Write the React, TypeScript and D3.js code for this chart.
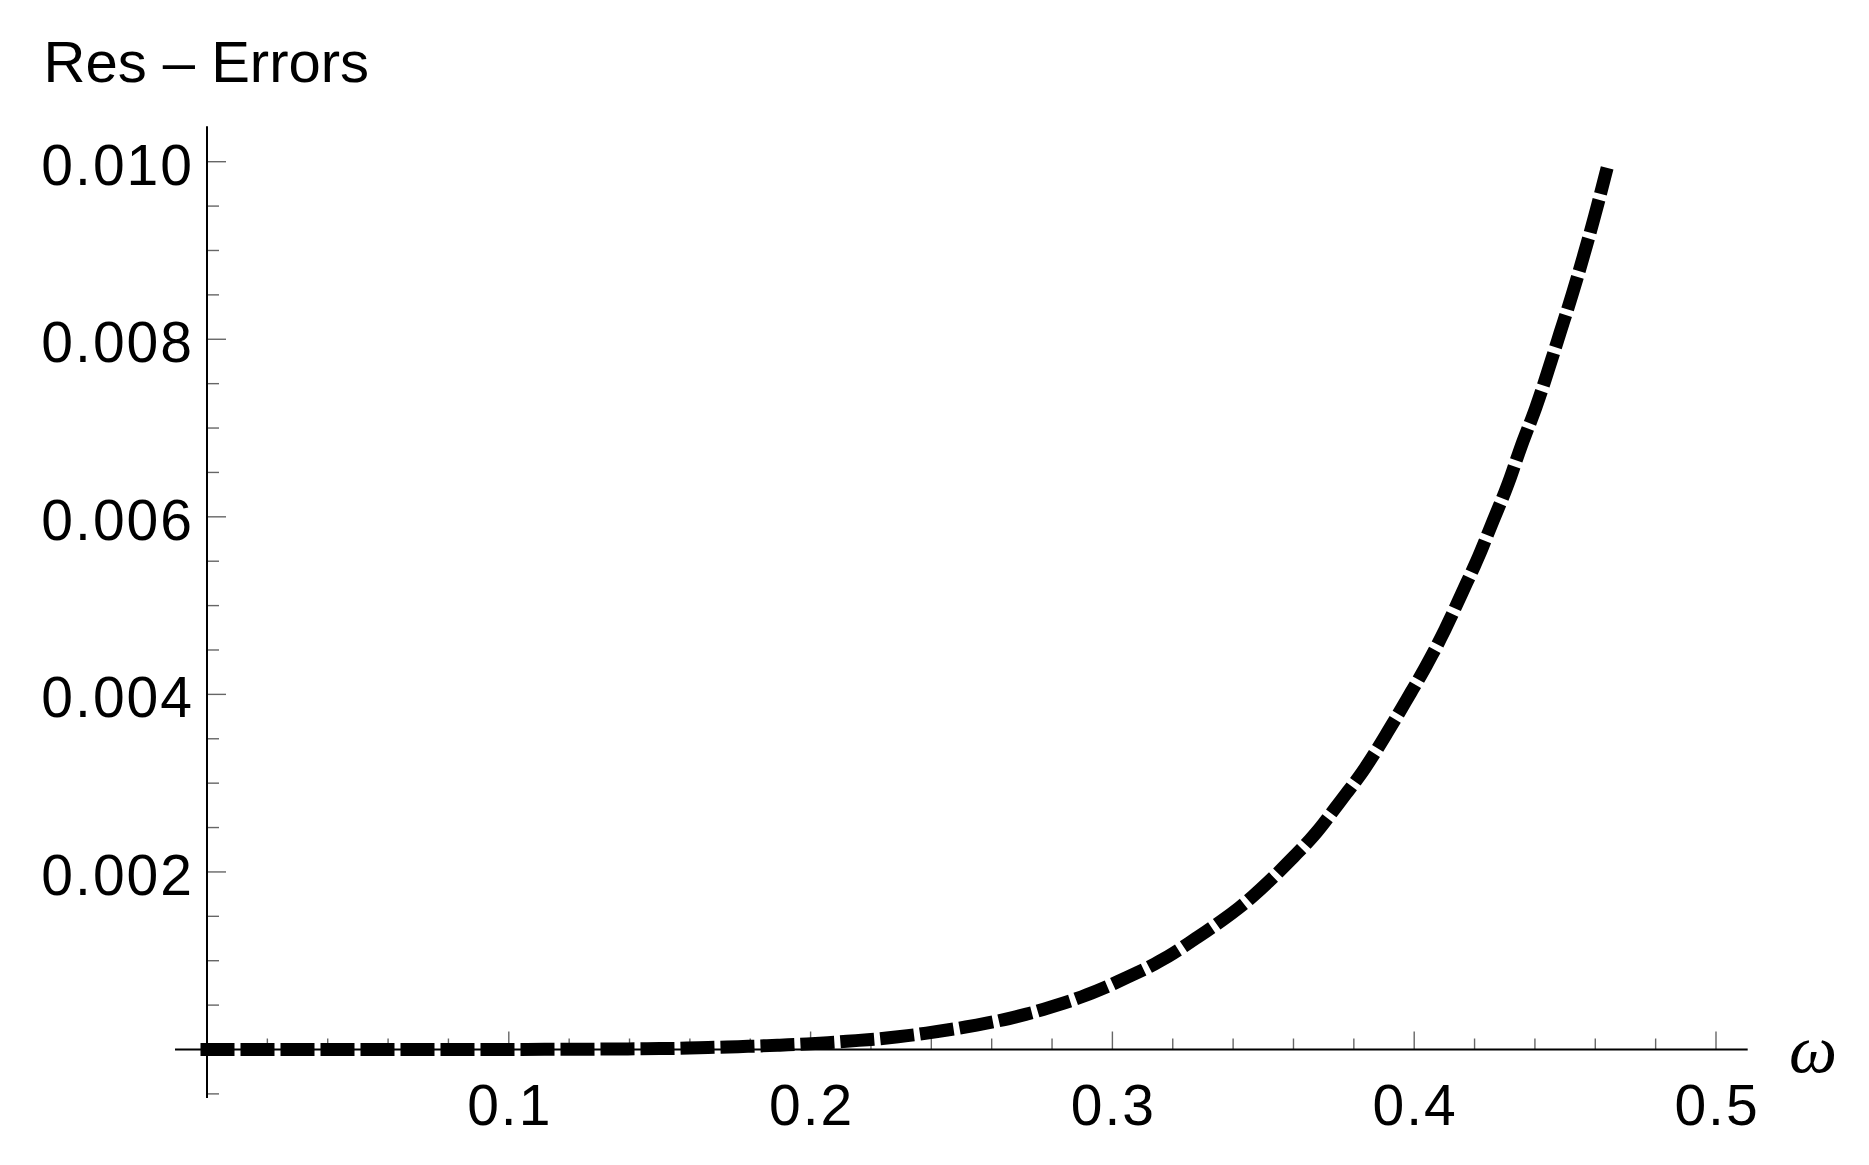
import React from "react";
import * as d3 from "d3";

const omega = [
  0, 0.05, 0.1, 0.15, 0.163, 0.176, 0.189, 0.203, 0.215, 0.229, 0.242, 0.255,
  0.268, 0.281, 0.293, 0.305, 0.317, 0.328, 0.3439, 0.3589, 0.3677, 0.3754,
  0.3837, 0.3909, 0.3975, 0.4041, 0.4102, 0.4158, 0.4213, 0.4262, 0.4312,
  0.4356, 0.4403, 0.4444, 0.4483, 0.4523, 0.4562, 0.4598, 0.4634,
];
const resErrors = [
  0, 0, 0.000001, 0.00001, 0.00002, 0.000032, 0.000048, 0.000071, 0.0001,
  0.000143, 0.000203, 0.000275, 0.000368, 0.000492, 0.000635, 0.000815,
  0.00102, 0.00126, 0.00165, 0.00213, 0.00245, 0.00279, 0.00317, 0.00356,
  0.00394, 0.00433, 0.00473, 0.00514, 0.00555, 0.00596, 0.00638, 0.00681,
  0.00723, 0.00765, 0.00807, 0.0085, 0.00895, 0.00939, 0.00986,
];
const xMajorTicks = [0.1, 0.2, 0.3, 0.4, 0.5];
const xTickLabels = ["0.1", "0.2", "0.3", "0.4", "0.5"];
const yMajorTicks = [0, 0.002, 0.004, 0.006, 0.008, 0.01];
const yTickLabels = ["", "0.002", "0.004", "0.006", "0.008", "0.010"];
const yTitle = "Res \u2013 Errors";
const xTitle = "\u03c9";

const W = 1869;
const H = 1165;

export default function App() {
  const x = d3.scaleLinear().domain([0, 0.5]).range([207, 1716]);
  const y = d3.scaleLinear().domain([0, 0.01]).range([1049.5, 161.7]);

  const xMinor = d3.range(0, 0.51, 0.02).filter(
    (v) => !xMajorTicks.some((m) => Math.abs(m - v) < 1e-9) && v > 1e-9
  );
  const yMinor = d3.range(-0.0005, 0.0101, 0.0005).filter(
    (v) => !yMajorTicks.some((m) => Math.abs(m - v) < 1e-9)
  );

  const pts: [number, number][] = omega.map((w, i) => [w, resErrors[i]]);
  const line = d3
    .line<[number, number]>()
    .x((d) => x(d[0]))
    .y((d) => y(d[1]))
    .curve(d3.curveMonotoneX);

  const font = "'Liberation Sans', Arial, sans-serif";
  const tickColor = "#666";
  const y0 = y(0);
  const x0 = x(0);

  return (
    <svg
      width={W}
      height={H}
      style={{ position: "absolute", left: 0, top: 0, background: "#fff" }}
    >
      <rect x={0} y={0} width={W} height={H} fill="#fff" />
      {yMinor.map((v, i) => (
        <line
          key={"ym" + i}
          x1={x0}
          x2={x0 + 12}
          y1={y(v)}
          y2={y(v)}
          stroke={tickColor}
          strokeWidth={1.4}
        />
      ))}
      {yMajorTicks.map((v, i) => (
        <line
          key={"yM" + i}
          x1={x0}
          x2={x0 + 19}
          y1={y(v)}
          y2={y(v)}
          stroke={tickColor}
          strokeWidth={1.4}
        />
      ))}
      {xMinor.map((v, i) => (
        <line
          key={"xm" + i}
          x1={x(v)}
          x2={x(v)}
          y1={y0}
          y2={y0 - 11}
          stroke={tickColor}
          strokeWidth={1.4}
        />
      ))}
      {xMajorTicks.map((v, i) => (
        <line
          key={"xM" + i}
          x1={x(v)}
          x2={x(v)}
          y1={y0}
          y2={y0 - 18}
          stroke={tickColor}
          strokeWidth={1.4}
        />
      ))}
      <line
        x1={x(-0.0106)}
        x2={x(0.5105)}
        y1={y0}
        y2={y0}
        stroke="#000"
        strokeWidth={2}
      />
      <line
        x1={x0}
        x2={x0}
        y1={y(0.0104)}
        y2={y(-0.000546)}
        stroke="#000"
        strokeWidth={2}
      />
      <path
        d={line(pts) || ""}
        fill="none"
        stroke="#000"
        strokeWidth={13}
        strokeLinecap="square"
        strokeDasharray="21 19"
      />
      {yMajorTicks.map((v, i) =>
        yTickLabels[i] ? (
          <text
            key={"yl" + i}
            x={194}
            y={y(v) + 23}
            textAnchor="end"
            fontFamily={font}
            fontSize={57}
            letterSpacing={2}
            fill="#000"
          >
            {yTickLabels[i]}
          </text>
        ) : null
      )}
      {xMajorTicks.map((v, i) => (
        <text
          key={"xl" + i}
          x={x(v) + 1}
          y={1125}
          textAnchor="middle"
          fontFamily={font}
          fontSize={57}
          letterSpacing={2}
          fill="#000"
        >
          {xTickLabels[i]}
        </text>
      ))}
      <text x={43.5} y={82} fontFamily={font} fontSize={58} fill="#000">
        {yTitle}
      </text>
      <text
        x={1813}
        y={1072}
        textAnchor="middle"
        fontFamily="'Liberation Serif', 'Times New Roman', serif"
        fontStyle="italic"
        fontSize={68}
        fill="#000"
      >
        {xTitle}
      </text>
    </svg>
  );
}
